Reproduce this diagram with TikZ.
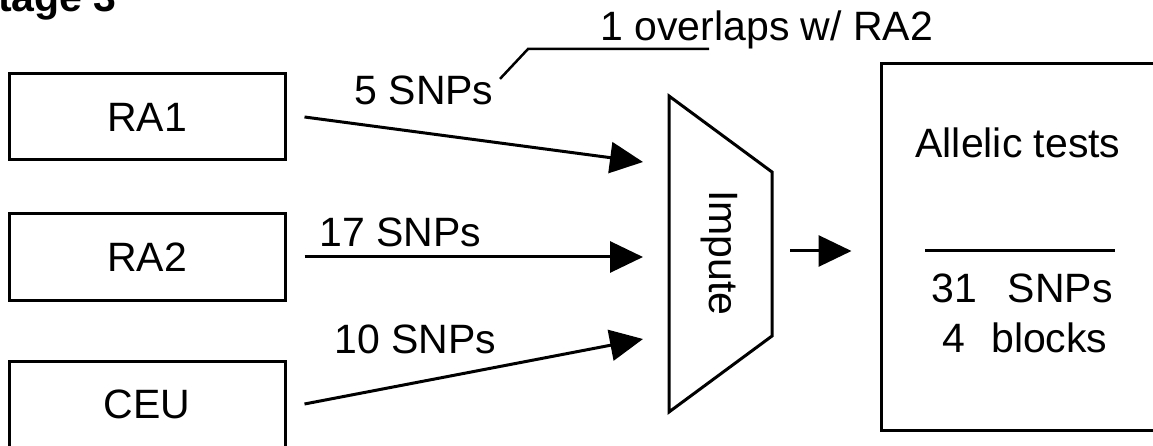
\documentclass[tikz,border=0pt]{standalone}
\usepackage{fontspec}
\setmainfont{Liberation Sans}
\usetikzlibrary{arrows.meta,positioning}

\begin{document}
\begin{tikzpicture}[x=1pt, y=-1pt, line width=3pt,
  every node/.style={font=\fontsize{41}{49}\selectfont, inner sep=0pt},
  srcbox/.style={draw, minimum width=276pt, minimum height=86pt},
  feed/.style={-{Triangle[length=33pt,width=31pt]}}]
\useasboundingbox (0,0) rectangle (1153,446);
\node[anchor=base east, font=\fontsize{41}{49}\selectfont\bfseries] (title) at (118,12) {Stage 3};
% input panels
\node[srcbox] (ra1) at (147,117) {RA1};
\node[srcbox] (ra2) at (147,257) {RA2};
\node[srcbox] (ceu) at (147,404) {CEU};
% impute step
\draw (669,96) -- (772,172) -- (772,336) -- (669,412) -- cycle;
\node[rotate=-90] (imp) at (719,253) {Impute};
\coordinate (in1) at (643,162);
\coordinate (in2) at (643,257);
\coordinate (in3) at (643,339);
\coordinate (out) at (790,251);
% result panel
\node[draw, minimum width=300pt, minimum height=366pt] (res) at (1031,247) {};
\node[anchor=base] (tests) at (1018,158) {Allelic tests};
\draw (925,251) -- (1115,251);
\node[anchor=base] (nsnp) at (1022,302) {31\hspace{0.75em}SNPs};
\node[anchor=base] (nblk) at (1025,352) {4\hspace{0.63em}blocks};
% arrows and counts
\draw[feed] ([xshift=18pt]ra1.east) -- (in1);
\draw[feed] ([xshift=18pt]ra2.east) -- (in2);
\draw[feed] ([xshift=18pt]ceu.east) -- (in3);
\draw[feed, shorten >=28pt] (out) -- (out -| res.west);
\node[anchor=base west] (lab1) at (353,105) {5 SNPs};
\node[anchor=base west] (lab2) at (318,247) {17 SNPs};
\node[anchor=base west] (lab3) at (333,353) {10 SNPs};
\node[anchor=base west] (ovl) at (599,41) {1 overlaps w/ RA2};
\coordinate (bend) at (528,49);
\coordinate (tail) at (709,49);
\draw[line width=2.5pt] ([xshift=5pt,yshift=-4pt]lab1.north east) -- (bend) -- (tail);
\end{tikzpicture}
\end{document}
